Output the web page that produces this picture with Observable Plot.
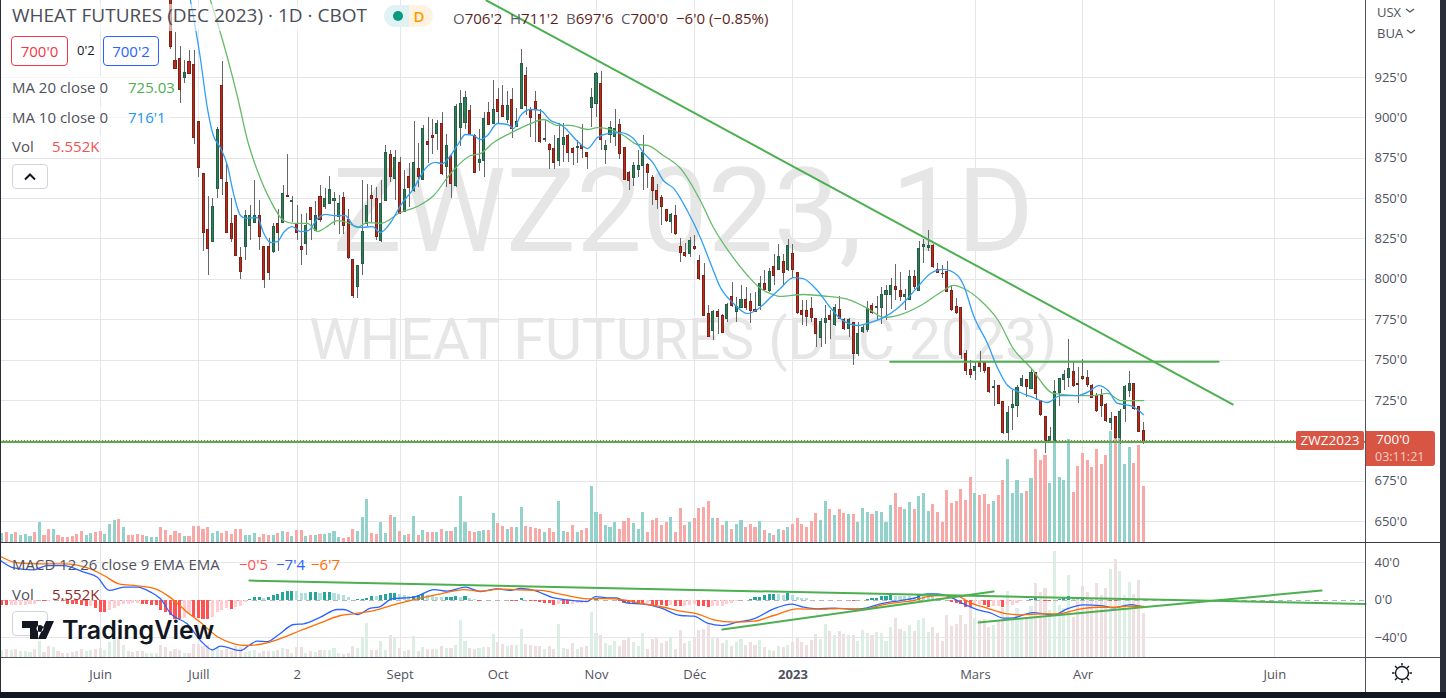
<!DOCTYPE html>
<html><head><meta charset="utf-8">
<script src="https://cdn.jsdelivr.net/npm/d3@7"></script>
<script src="https://cdn.jsdelivr.net/npm/@observablehq/plot@0.6"></script>
<style>
html,body{margin:0;padding:0;background:#fff;overflow:hidden}
#page{position:relative;width:1446px;height:698px;overflow:hidden;font-family:"Open Sans",sans-serif;background:#fff}
#page svg{position:absolute;display:block;max-width:none;left:0}
.t{position:absolute;white-space:nowrap;line-height:1;color:#4f525c;font-size:15px}
.bg{position:absolute;background:rgba(255,255,255,.6)}
.box{position:absolute;border:1px solid;border-radius:4px;box-sizing:border-box;display:flex;align-items:center;justify-content:center;font-size:15px}
</style></head><body><div id="page"></div>
<script>
// Daily candles (first candle = bar 36); prices in US cents per bushel
const firstCandleBar = 36;
const opens = [985,935.5,936.5,924.5,934.5,933,897.5,865,830.5,823,
856,920,859.5,834.5,839.5,813.5,820,833,835,839.5,
820,820,817,834.5,835,851.5,848,834.5,820,822,
844,830,851,844.5,846.5,848.5,838.5,850.5,837,812,
795,809.5,834.5,851.5,850,823.5,848.5,877,862,872,
842,863.5,855,868.5,861.5,885,889,890,896.5,869.5,
875.5,858,894,897,904.5,888.5,872,873,903,896.5,
911,907.5,898.5,911,894.5,905.5,926,904.5,910,902,
886,883.5,881,873,883.5,889,881,881.5,882.5,878.5,
906,908.5,921,880,889.5,888,895.5,881.5,866,862.5,
868,870.5,871,863,855,850.5,843,835.5,839.5,820,
816.5,815.5,820,811.5,802,778.5,768,780,777.5,775.5,
789,780,782.5,787,786,781,783.5,797,793,807.5,
806,811,805.5,815.5,804,780.5,780.5,781.5,775.5,763.5,
773,777.5,771.5,781,775,769,773,754,767.5,768.5,
783.5,782.5,782.5,790,790,795.5,793,789,787.5,801.5,
793,820,819.5,820.5,805.5,803.5,804.5,793,783,782.5,
754,744,743,748,748,745,732.5,734,724,705,
720.5,721.5,734,737.5,732,742,724.5,715,700,699,
729.5,737.5,739,742.5,735,739.5,739,734,728,728,
722,711,714.5,702,719.5,731,735,721,706.25];
const highs = [992,953,944,935.5,941.5,941.5,897.5,865,851,850,
894,935,872,850,839.5,820,842.5,845.5,861.5,849,
820,825,834.5,843.5,858,877.5,851,845.5,840,840.5,
844.5,848,858,856,863.5,853.5,852,854,843.5,812.5,
808.5,861,859,858,857,861,883,880,880,875.5,
867.5,871.5,898,884,895,900,899,898.5,903.5,890,
877.5,908.5,917,916.5,907.5,890,893,903.5,909.5,923,
918,920,916.5,918,905.5,942.5,931,906.5,916.5,905,
898.5,884,889,896.5,896.5,890,881.5,886,896,878.5,
918,928,928.5,886,897.5,905,899,881.5,866.5,872.5,
879.5,889,871.5,864.5,859,852,843.5,841,845.5,825,
822,826,827,814.5,809.5,783.5,780.5,781.5,778.5,785,
798,789,796,795,791,792,801.5,805.5,806.5,815.5,
821.5,815.5,824.5,821.5,804,787,787,789,775.5,775.5,
783.5,780.5,784.5,789.5,775.5,775.5,773,773,771.5,786,
785,789.5,795,796,800.5,809,804.5,794,805.5,805.5,
823.5,824.5,830,821.5,809.5,808.5,811,796,788,782.5,
756,749.5,748.5,755,748.5,745.5,737.5,734,724,721,
731,734,740.5,737.5,744.5,742,724.5,715,708.5,737.5,
738.5,743.5,762.5,748.5,745.5,750.5,743.5,735,729,732,
723,717.5,714.5,719.5,734,743,735,721,711.25];
const lows = [942.5,930.5,909,921,927,883.5,863,817,802.5,823,
850,852,828.5,822.5,814,800,811.5,824,835,818,
794.5,799.5,816,817.5,834.5,851,835.5,824,808.5,814.5,
824,830,835.5,843.5,846.5,833.5,828,828,812.5,788,
788,802.5,832.5,834.5,824,823,848,860,849,840.5,
841.5,844.5,854,857,861,871.5,877.5,880,864.5,857,
850,857,882,893,889,865.5,866.5,863,895,896,
896.5,900,896.5,887,894,905,901.5,888,885,884,
884.5,868,868,870,872.5,872.5,870.5,871.5,875,868,
894,900,879.5,871,884,882,874.5,861,855,857.5,
863,855,856,846,843,833.5,835.5,828.5,827,810.5,
813.5,813.5,818,799.5,777.5,764,762,766,766.5,773.5,
782.5,773.5,782.5,780.5,772.5,779.5,780.5,793,792,796,
805.5,796,805,800.5,778.5,771.5,770.5,773.5,758,758,
759.5,762.5,770.5,775,768.5,764,746.5,752,766.5,767,
778.5,774.5,772,774.5,781,787,786,780.5,787,794,
792.5,810,817.5,806.5,804,800.5,792,780,778.5,750.5,
740.5,738.5,737.5,742,741.5,729.5,721,723,704,700,
706.5,714.5,733,727,731.5,725,715,692,699,698.5,
721,731,733,733,723,737.5,733,726,717.5,714.5,
711.5,706.5,701,698,711.5,727,718.5,705,697.75];
const closes = [944,930.5,917.5,928,927,887.5,869,828.5,818.5,844.5,
892.5,862,828.5,825,814.5,804.5,839.5,839.5,839.5,826.5,
799.5,804,832.5,828.5,853,851,848.5,829,818,833,
837,839.5,837,850,855.5,850,846.5,833,813.5,789.5,
808,829.5,845.5,849.5,826,846.5,878.5,863.5,875,840.5,
855.5,856.5,872,863.5,893,883,887.5,896,865.5,882.5,
859,907,908.5,912.5,889.5,866,874,899,895.5,905,
903.5,900.5,907.5,893,897.5,933.5,907.5,900,905,885,
887,880,872,887,887.5,878,878,881.7,881,875.5,
912.5,927,886.5,882.5,894,893,877.5,861.5,861,870.5,
870.5,878.5,866,855,849,844.5,836,840,828,816.5,
814.5,824,819,800,777.5,764.5,780,776.5,767,784,
783.5,783,787,782,780.5,780,797,793.5,804.5,802,
814,804,820.5,806,779,778,776.5,776,766,773.5,
775.5,775,782.5,775.5,769,775,754,766,770,781.5,
779,782.7,790.5,793,796,793.5,789,790.5,801.5,795,
819,821.5,820.5,807.5,804,803.3,792,781,779,753,
743.5,740.5,745.5,746,743,730.5,733.5,723,705,717.5,
722,732.5,738.5,733.5,742,729,716,700,702.5,730,
738.5,741,744.5,734,734.5,738.5,734.5,726.5,718.5,721.5,
712,713.5,702,718,733,735,719.5,705.5,700];

// Volume in thousands, one per bar from bar 0 to bar 244
const volumes = [.89,.99,.83,1.02,.73,.79,.63,.96,2.02,.66,1.32,1.29,.73,.5,.46,.63,.79,1.06,.73,.89,
1.02,1.12,.83,1.82,2.21,2.31,1.45,.73,.66,.79,.73,.56,.53,.5,1.49,1.22,.73,1.06,.89,.56,
.56,1.62,1.62,1.32,1.52,.89,1.12,.89,1.06,.79,1.32,1.26,.66,.73,.89,.53,.79,.73,.73,.89,
1.12,.96,.56,1.22,1.22,.56,.73,.66,.83,.83,.89,1.12,.53,.36,.53,1.32,1.12,2.51,4.29,.89,
.83,2.02,.89,2.71,2.51,1.12,.73,.83,2.61,.73,1.22,1.02,.99,.99,1.32,1.12,1.12,1.45,4.59,1.95,
1.12,.99,1.12,1.22,1.22,2.91,1.92,1.62,1.32,1.52,1.52,3.5,1.62,1.52,1.42,1.32,1.02,1.42,1.02,4.1,
1.12,1.02,1.72,1.02,1.22,1.42,5.58,3.01,2.81,1.72,1.52,2.02,1.32,2.11,2.41,1.92,1.32,3.01,1.02,2.21,
2.41,1.72,2.02,2.51,1.02,3.4,1.72,2.02,2.41,3.4,3.5,4.1,2.41,2.41,1.72,2.11,1.32,1.82,2.21,1.52,
1.82,1.52,2.11,1.22,.93,.73,1.32,1.22,1.52,1.82,2.41,1.82,1.52,2.11,2.91,2.21,4.1,3.3,2.71,3.3,
2.91,2.81,2.81,2.02,3.4,3.01,2.81,3.11,3.01,2.02,3.7,4.89,3.5,3.3,4,3.3,4.59,4.89,3.11,3.8,
3.01,2.02,5.19,3.9,4.1,5.29,4.16,6.44,4.86,4.66,4.76,3.77,4.06,4.66,6.14,8.23,4.86,6.14,4.86,5.05,
6.34,9.22,8.13,8.62,5.85,13.2,6.44,6.14,10.2,4.96,7.53,8.82,8.13,7.43,9.22,7.73,8.62,11,12.2,10.8,
7.73,9.42,7.83,9.61,5.552];
// Direction of the bars before the first candle: 1 = up, 0 = down
const earlyUp = [1,0,1,0,1,1,1,0,1,0,0,1,0,0,0,0,0,0,1,1,0,0,1,1,1,0,1,0,0,0,0,1,1,1,0,0];

// Moving averages: bar, value
const ma10Bars = [40.2,42.3,43.8,45.1,46.6,48.1,49.4,50.9,52,54.5,55.8,57.3,58.8,60.1,62,63.7,65.4,67.4,69.1,70.8,73.3,75.1,77,79.1,80.8,83,85.1,87.9,90.4,92.6,94.1,95.8,97.5,99,100.7,102.2,103.7,105.8,108,109.3,110.8,112.9,115,117.2,119.3,120.4,121.4,123.2,125.1,127.2,129.4,132.1,134.9,137,139.2,141.3,143.5,146.4,149.2,151.4,153.5,156.3,159.3,161.4,164.2,166.3,169.1,171.2,174.2,177,179.1,182.8,185.6,188.4,191.3,193.5,196.3,198.4,201.2,204.2,205.5,207.6,210.6,212.7,214.9,217.6,220.4,223.4,226.2,229.8,232.6,234.3,236.4,238.4,241.2,243.9];
const ma10Vals = [972.7,937.4,906.4,889.1,881.6,870.5,853.2,839.5,837.7,838.3,829,822.8,823.4,829,832.7,829.6,830.2,837.7,840.2,839.5,839.5,833.3,832.1,832.7,829,835.2,845.7,856.2,868.6,872.4,871.7,876.7,884.1,889.7,889.1,886.6,889.1,896.5,895.9,893.4,901.5,905.2,904.6,898.4,895.9,893.4,890.3,884.7,881,887.8,890.3,890.9,887.2,878.6,871.7,861.2,856.3,842.6,825.9,809.8,794.9,785,778.8,781.3,788.7,794.3,801.1,800.5,793.1,782.5,775.7,771.4,773.3,776.4,781.9,788.1,797.4,803.6,806.1,802.4,796.2,777.6,760.2,745.4,734.2,729.9,726.8,723.7,728,728,731.1,734.2,731.1,723.1,721.8,716.3];
const ma20Bars = [44.5,48.1,50.3,52.4,54.5,57.3,60.1,62.2,65.2,67.4,69.1,71.6,73.8,75.9,78,80.8,85.1,88.7,92.2,95.8,100.1,102.2,105,109.3,112.9,115.7,118.7,121.4,125.1,127.2,130,132.8,135.8,137.9,141.3,145,149.2,152,155.6,159.3,162.1,164.2,166.3,171.2,176.4,180.9,185,188.4,192.6,196.3,201.2,203.3,205.5,209.1,212.9,216.1,219.8,224.7,229.8,233.2,236.2,239.1,244];
const ma20Vals = [972.7,937.4,912.6,886,867.4,848.8,836.4,834.6,834.6,829.6,832.1,836.4,835.2,832.1,835.2,834.6,841.4,845.1,851.9,865.5,876.7,877.9,884.7,891.6,896.5,899,895.3,895.3,892.8,894,892.8,889.1,883.5,882.9,876.7,868.6,848.8,832.1,816,802.4,794.3,791.2,789.4,790.6,789.4,787.5,781.9,776.4,778.8,783.8,793.1,796.2,794.3,786.9,774.5,757.1,745.4,729.3,728,728,729.3,724.9,724.9];

// MACD pane lines: bar, value
const macdBars = [-.4,2.4,6.7,9.6,13.1,17.4,20.3,22.8,26,28.8,31.7,33.8,36,39.5,42.7,44.9,46.6,50.9,52.7,54.5,56.6,58.8,62.3,64.4,68,71.6,73,75.9,78.7,80.5,83.3,88,92.3,95.1,99,102.2,105.8,108.6,110.8,113.6,117.9,120.7,125,126.8,129.3,131.4,133.6,137.1,140.7,145,147.8,150.7,153.9,157.1,160.6,164.9,168.8,171.3,174.2,177.8,182,184.9,187.7,192,194.9,197.7,199.8,202.7,205.5,208.4,211.2,214.1,216.2,218.4,220.5,222.6,224.8,227.6,231.2,234.8,237.6,241.2,244];
const macdVals = [42.2,34.3,32.2,36.8,36.8,29.7,24.4,10.2,13.7,13.7,8.4,1.3,-14.7,-25.4,-45,-53.1,-49.2,-53.9,-48.5,-43.9,-44.3,-37.9,-26.1,-25.4,-18.3,-10.1,-10.1,-15.5,-8.7,-7.6,1.3,3,11.2,9.4,13.7,9.1,11.9,10.2,12.3,10.2,2.3,.2,-1.6,3.7,2.3,2.3,-3.4,-4.4,-8.3,-16.5,-17.2,-24.7,-27.2,-23.6,-20.1,-9.4,-4.4,-7.6,-9.4,-8.7,-9.8,-8.3,-4.1,-.6,1.9,6.6,6.6,3,-4.1,-10.2,-13.7,-19.4,-19,-15.5,-13.4,-14.8,-15.8,-9.4,-5.2,-5.9,-8.4,-4.8,-7.5];
const signalBars = [-.4,3.2,8.1,13.1,18.8,21.7,24.9,28.8,32.7,36,39.5,42.7,45.9,49.5,52,56.6,60.2,63.7,68,72.3,75.1,79.4,84.4,88.7,93.7,98.7,102.2,106.5,110.8,115,120,125,129.3,132.8,136.4,140.7,145,148.5,152.1,156.4,160.6,164.9,169.9,174.2,179.2,184.2,188.4,192,194.9,197.7,200.6,204.1,207,210.5,214.8,217.7,222,225.5,229.8,234,237.6,240.5,244];
const signalVals = [46.4,39.7,38.6,38.6,33.3,26.2,17.3,15.1,11.9,2.3,-13,-25.4,-38.9,-46.7,-48.5,-45.7,-39.6,-32.5,-24.3,-16.5,-14.7,-11.2,-4.1,1.3,6.6,11.2,9.4,11.6,10.9,10.2,5.5,1.3,1.6,.2,-3.4,-6.9,-11.9,-14.7,-21.1,-23.6,-22.6,-16.5,-9.4,-9.8,-9.1,-9.8,-4.8,-2.3,-.6,3.7,4.8,4.1,-3,-8.7,-14.8,-15.8,-14.8,-14.8,-10.2,-7.7,-7.7,-6.6,-6.7];
// MACD histogram, one per bar from bar 0 to bar 244
const histogram = [-5.5,-6.2,-6,-5.8,-5.6,-5.4,-5.2,-5,-.7,-1.4,-1.3,-.7,-.6,-1.4,-4.3,-4.4,-5,-6,-7.1,-7,-8.5,-13.2,-13.3,-11.4,-8.5,-7.1,-5,-4.3,-3.6,-3.5,-4.3,-5,-6,-6.1,-10.7,-13.2,-16.7,-20.3,-20.4,-19.2,-14.9,-18.5,-19.2,-20.3,-21,-18.5,-13.2,-10.7,-8.5,-9.6,-7.8,-7.1,-2.5,.1,2.8,2.9,1.8,2.8,4.6,5.7,8.2,9.2,9.6,8.9,7.5,7.4,8.2,8.3,7.1,8.2,8.3,7.1,6.4,4.6,2.8,0,.7,1.1,2.1,3.9,3.8,5.3,6.4,7.1,7.5,5.7,4.6,3.6,3.7,4.6,5.7,4.6,4.5,2.8,2.7,2.8,3.2,3.6,2.8,3.6,2.1,1.1,-1.4,
-.7,-.7,-.6,-.5,0,0,-1.1,-1.4,1.4,0,-1.1,-1.1,-2.1,-3.2,-3.9,-5.7,-5,-5,-5.1,-4.3,-4.2,-4.1,-2.8,0,.7,0,-.4,-.7,-.8,-1.1,-3.2,-3.6,-3.9,-4.3,-5,-3.2,-5.3,-6,-6.1,-6.8,-5.7,-6.8,-6.9,-6.8,-5.7,-5,-6.4,-7.1,-8.2,-7.1,-7,-6.4,-5,-3.6,-1.4,-.7,0,1.1,2.5,3.2,4.6,5.7,5.8,5.7,5.3,6.8,4.6,2.8,2.1,1.4,0,-.7,-.7,-.7,-.4,-.7,-.4,0,0,-1.1,0,0,1.1,1.8,2.1,3.6,3.7,4.6,3.6,3.5,3.4,3.3,3.2,6.4,5.3,4.6,3.9,2.1,1.1,0,-2.5,-3.6,-5,
-7.8,-7.8,-6,-5,-5.5,-7.8,-7.1,-7,-8.2,-6,-5.3,-3.6,-1.4,-.7,1.1,1.2,0,-1.1,-1.1,0,1.1,3.2,4.3,2.8,2.1,3.2,2.1,1.8,1.1,.4,0,-1.1,-1.1,0,.7,1.1,.7,0,-.6];

// Drawn trend lines: bars and values of their end points
const resistanceBars = [103.5,263], resistanceVals = [972.7,722.5];
const levelBars = [189.8,260], levelVals = [749,749];
const floorVal = 699.2, lastClose = 700;
const macdFallBars = [52.8,291.4], macdFallVals = [20.8,-4.3];
const macdRiseABars = [153.9,211.9], macdRiseAVals = [-31.5,9.1];
const macdRiseBBars = [208.7,282], macdRiseBVals = [-24,10.1];

// Axes
const priceTicks = [925,900,875,850,825,800,775,750,725,675,650];
const priceGrid = [925,900,875,850,825,800,775,750,725,700,675,650];
const macdTicks = [40,0,-40];
const monthBars = [21,42,63,85,106,127,148,208,231,272];
const monthLabels = ["Juin","Juill","2","Sept","Oct","Nov","Déc","Mars","Avr","Juin"];
const yearBars = [169], yearLabels = ["2023"];

const rows = opens.map((o,i)=>({bar:firstCandleBar+i,open:o,high:highs[i],low:lows[i],close:closes[i]}));
const volRows = volumes.map((v,i)=>({bar:i,vol:v,up:i<firstCandleBar?earlyUp[i]===1:closes[i-firstCandleBar]>=opens[i-firstCandleBar]}));
const histRows = histogram.map((v,i)=>({bar:i,val:v,prev:i?histogram[i-1]:v}));
const pts = (b,v)=>b.map((x,i)=>({bar:x,val:v[i]}));

const font = '"Open Sans",sans-serif', gridC = "#e6e6e9", axisC = "#50535e", lineC="#4caf50";
const xDomain = [-.406,291.4];
const base = {width:1440,marginLeft:0,marginRight:75,marginTop:0,x:{domain:xDomain,axis:null},color:{type:"identity"},style:{background:"transparent",fontFamily:font,fontSize:"13px"}};
const mainY = {domain:[636.99,972.7],axis:null};
const crisp = {shapeRendering:"crispEdges"};

const backPlot = Plot.plot({...base,height:542,marginBottom:0,y:mainY,marks:[
  Plot.ruleY(priceGrid,{x1:xDomain[0],x2:xDomain[1],stroke:gridC,...crisp}),
  Plot.ruleX([...monthBars,...yearBars],{stroke:gridC,...crisp}),
  Plot.text(["ZWZ2023, 1D"],{frameAnchor:"middle",dy:-58,fontSize:117,fill:"#e6e6e6",fontFamily:'Roboto'}),
  Plot.text(["WHEAT FUTURES (DEC 2023)"],{frameAnchor:"middle",dy:69,fontSize:57,fill:"#e6e6e6",fontFamily:'Roboto'}),
  Plot.axisY(priceTicks,{anchor:"right",tickSize:0,tickPadding:9,fontSize:13,fill:axisC,label:null,tickFormat:d=>d+"'0"})
]});
const volPlot = Plot.plot({...base,height:542,marginBottom:0,y:{domain:[0,53.72],axis:null},marks:[
  Plot.rect(volRows,{x1:d=>d.bar-.33,x2:d=>d.bar+.33,y1:d=>0,y2:"vol",fill:d=>d.up?"#93d2ca":"#f7a9a7",...crisp})
]});
const pricePlot = Plot.plot({...base,height:542,marginBottom:0,y:mainY,marks:[
  Plot.ruleX(rows,{x:"bar",y1:"low",y2:"high",stroke:"#666",strokeWidth:1,clip:true,...crisp}),
  Plot.rect(rows,{x1:d=>d.bar-.22,x2:d=>d.bar+.22,y1:"open",y2:"close",fill:d=>d.close>=d.open?"#2f7d59":"#b92d1e",stroke:d=>d.close>=d.open?"#245f45":"#7d2015",strokeWidth:1,clip:true,...crisp}),
  Plot.line(pts(ma20Bars,ma20Vals),{x:"bar",y:"val",stroke:"#66bb6a",strokeWidth:1.3,curve:"monotone-x",clip:true}),
  Plot.line(pts(ma10Bars,ma10Vals),{x:"bar",y:"val",stroke:"#2f9ff5",strokeWidth:1.3,curve:"monotone-x",clip:true}),
  Plot.line(pts(resistanceBars,resistanceVals),{x:"bar",y:"val",stroke:lineC,strokeWidth:2,clip:true}),
  Plot.line(pts(levelBars,levelVals),{x:"bar",y:"val",stroke:lineC,strokeWidth:2}),
  Plot.ruleY([floorVal],{x1:xDomain[0],x2:xDomain[1],stroke:lineC,strokeWidth:2}),
  Plot.ruleY([lastClose],{x1:xDomain[0],x2:xDomain[1],stroke:"#ef5350",strokeWidth:1,strokeDasharray:"1 2",...crisp})
]});
const macdY = {domain:[-61.3,60.3],axis:null};
const macdVolPlot = Plot.plot({...base,height:149,marginBottom:35,y:{domain:[0,14.25],axis:null},marks:[
  Plot.ruleX([...monthBars,...yearBars],{stroke:gridC,...crisp}),
  Plot.rect(volRows,{x1:d=>d.bar-.33,x2:d=>d.bar+.33,y1:d=>0,y2:"vol",fill:d=>d.up?"#dcefe4":"#eee0e1",...crisp}),
  Plot.axisX(monthBars,{anchor:"bottom",tickSize:0,tickPadding:12,fontSize:13,fill:axisC,label:null,tickFormat:d=>monthLabels[monthBars.indexOf(d)]}),
  Plot.axisX(yearBars,{anchor:"bottom",tickSize:0,tickPadding:12,fontSize:13,fontWeight:"bold",fill:axisC,label:null,tickFormat:d=>yearLabels[yearBars.indexOf(d)]})
]});
const histFill = d=>d.val>=0?(d.val>=d.prev?"#26a69a":"#b2dfdb"):(d.val<=d.prev?"#ff5252":"#ffcdd2");
const macdPlot = Plot.plot({...base,height:149,marginBottom:35,y:macdY,marks:[
  Plot.ruleY([40,-40],{x1:xDomain[0],x2:xDomain[1],stroke:gridC,...crisp}),
  Plot.ruleY([0],{x1:xDomain[0],x2:xDomain[1],stroke:"#b5b5b5",strokeDasharray:"5 4",...crisp}),
  Plot.rect(histRows,{x1:d=>d.bar-.33,x2:d=>d.bar+.33,y1:d=>0,y2:"val",fill:histFill,...crisp}),
  Plot.line(pts(macdBars,macdVals),{x:"bar",y:"val",stroke:"#2962ff",strokeWidth:1.3,curve:"monotone-x"}),
  Plot.line(pts(signalBars,signalVals),{x:"bar",y:"val",stroke:"#ff6d00",strokeWidth:1.3,curve:"monotone-x"}),
  Plot.line(pts(macdFallBars,macdFallVals),{x:"bar",y:"val",stroke:lineC,strokeWidth:2}),
  Plot.line(pts(macdRiseABars,macdRiseAVals),{x:"bar",y:"val",stroke:lineC,strokeWidth:2}),
  Plot.line(pts(macdRiseBBars,macdRiseBVals),{x:"bar",y:"val",stroke:lineC,strokeWidth:2}),
  Plot.axisY(macdTicks,{anchor:"right",tickSize:0,tickPadding:9,fontSize:13,fill:axisC,label:null,tickFormat:d=>(d<0?"\u2212"+(-d):d)+"'0"})
]});

const page = document.getElementById("page");
[[backPlot,0],[volPlot,0],[pricePlot,0],[macdVolPlot,543],[macdPlot,543]].forEach(([p,top])=>{p.style.top=top+"px";page.appendChild(p);});

const overlay = document.createElement("div");
const dk = "#5d1f1a";
overlay.innerHTML = `
<div class="bg" style="left:0;top:4px;width:372px;height:27px"></div>
<div class="bg" style="left:0;top:76px;width:178px;height:22px"></div>
<div class="bg" style="left:0;top:106px;width:170px;height:22px"></div>
<div class="bg" style="left:0;top:135px;width:108px;height:22px"></div>
<div class="t" style="left:12px;top:6px;font-size:19px;color:#4a4d57">WHEAT FUTURES (DEC 2023) · 1D · CBOT</div>
<div style="position:absolute;left:384px;top:5px;width:49px;height:22px;border-radius:11px;overflow:hidden;display:flex"><div style="width:25px;background:#e0f2f1;position:relative"><div style="position:absolute;left:9px;top:6px;width:10px;height:10px;border-radius:5px;background:#089981"></div></div><div style="flex:1;background:#fff3e0;color:#ff9800;font-weight:600;font-size:15px;line-height:22px;text-align:center;padding-right:4px">D</div></div>
<div class="t" style="left:453px;top:11px;color:#5a5d66">O<span style="color:${dk}">706'2</span></div>
<div class="t" style="left:510px;top:11px;color:#5a5d66">H<span style="color:${dk}">711'2</span></div>
<div class="t" style="left:566px;top:11px;color:#5a5d66">B<span style="color:${dk}">697'6</span></div>
<div class="t" style="left:621px;top:11px;color:#5a5d66">C<span style="color:${dk}">700'0</span></div>
<div class="t" style="left:676px;top:11px;color:${dk}">−6'0 (−0.85%)</div>
<div class="box" style="left:11px;top:36px;width:57px;height:30px;border-color:#f23645;color:#f23645;background:#fff">700'0</div>
<div class="t" style="left:77px;top:44px;font-size:13px;color:#131722">0'2</div>
<div class="box" style="left:103px;top:36px;width:56px;height:30px;border-color:#2962ff;color:#2962ff;background:#fff">700'2</div>
<div class="t" style="left:12px;top:80px">MA 20 close 0</div><div class="t" style="left:128px;top:80px;color:#4caf50">725.03</div>
<div class="t" style="left:12px;top:110px">MA 10 close 0</div><div class="t" style="left:128px;top:110px;color:#2196f3">716'1</div>
<div class="t" style="left:12px;top:139px">Vol</div><div class="t" style="left:52px;top:139px;color:#ef5350">5.552K</div>
<div class="box" style="left:12px;top:164px;width:36px;height:25px;border-color:#d1d4dc;background:#fff"><svg style="position:static" width="12" height="8"><path d="M1 6.5 L6 1.5 L11 6.5" fill="none" stroke="#131722" stroke-width="2"/></svg></div>
<div class="t" style="left:1377px;top:6px;font-size:13px">USX</div><svg style="left:1405px;top:8px" width="10" height="6"><path d="M1 1l4 3 4-3" fill="none" stroke="#50535e" stroke-width="1.3"/></svg>
<div class="t" style="left:1377px;top:27px;font-size:13px">BUA</div><svg style="left:1406px;top:29px" width="10" height="6"><path d="M1 1l4 3 4-3" fill="none" stroke="#50535e" stroke-width="1.3"/></svg>
<div style="position:absolute;left:1296px;top:431px;width:68px;height:19px;border-radius:2px;background:#d85543;color:#fff;font-size:13.5px;line-height:19px;text-align:center">ZWZ2023</div>
<div style="position:absolute;left:1366px;top:431px;width:69px;height:35px;border-radius:0 3px 3px 0;background:#d85543"><div class="t" style="left:10px;top:2px;color:#fff;font-size:13.5px">700'0</div><div class="t" style="left:9px;top:20px;color:#f3cfc8;font-size:12.5px">03:11:21</div></div>
<div class="t" style="left:12px;top:557px">MACD 12 26 close 9 EMA EMA</div>
<div class="t" style="left:239px;top:557px;color:#ff5252">−0'5</div><div class="t" style="left:276px;top:557px;color:#2962ff">−7'4</div><div class="t" style="left:311px;top:557px;color:#ff6d00">−6'7</div>
<div class="t" style="left:12px;top:587px">Vol</div><div class="t" style="left:52px;top:587px;color:#8b2c2c">5.552K</div>
<div class="box" style="left:12px;top:611px;width:36px;height:25px;border-color:#d1d4dc;background:rgba(255,255,255,.6)"></div>
<svg style="left:22px;top:621px" width="32" height="19"><path d="M0 0H16V18H8V7H0Z M18 4a3.5 3.5 0 1 0 .01 0Z M24 0H32L24 18H16Z" fill="#131722"/></svg>
<div class="t" style="left:62px;top:618px;font-family:Inter,sans-serif;font-weight:600;font-size:25px;color:#131722">TradingView</div>
<svg style="left:1391px;top:662px" width="22" height="22"><circle cx="11" cy="11" r="6.5" fill="none" stroke="#131722" stroke-width="1.4"/><g stroke="#131722" stroke-width="1.4"><path d="M11 1v2.5M11 18.5V21M1 11h2.5M18.5 11H21M4 4l2 2M16 16l2 2M18 4l-2 2M6 16l-2 2"/></g></svg>
<div style="position:absolute;left:1365px;top:0;width:1px;height:692px;background:#50535e"></div>
<div style="position:absolute;left:0;top:542px;width:1440px;height:1px;background:#3a3d47"></div>
<div style="position:absolute;left:0;top:657px;width:1440px;height:1px;background:#50535e"></div>
<div style="position:absolute;left:0;top:0;width:1px;height:698px;background:#2a2e39"></div>
<div style="position:absolute;left:1440px;top:0;width:6px;height:698px;background:#2a2e39"></div>
<div style="position:absolute;left:0;top:692px;width:1446px;height:6px;background:#131722"></div>`;
page.appendChild(overlay);
</script></body></html>
